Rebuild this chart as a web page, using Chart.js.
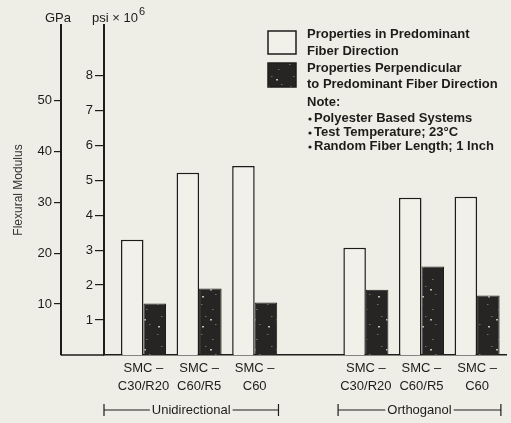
<!DOCTYPE html>
<html>
<head>
<meta charset="utf-8">
<script src="https://cdn.jsdelivr.net/npm/chart.js@4.4.1/dist/chart.umd.min.js"></script>
<style>
  html, body { margin: 0; padding: 0; background: #efeee6; }
  #wrap { width: 511px; height: 423px; }
</style>
</head>
<body>
<div id="wrap"><canvas id="myChart" width="511" height="423"></canvas></div>
<script>
// values (psi x 10^6)
const categories = [
    ['SMC –', 'C30/R20'], ['SMC –', 'C60/R5'], ['SMC –', 'C60'],
    '',
    ['SMC –', 'C30/R20'], ['SMC –', 'C60/R5'], ['SMC –', 'C60']
];
const predominant = [3.30, 5.21, 5.41, null, 3.07, 4.50, 4.53];
const perpendicular = [1.47, 1.90, 1.50, null, 1.87, 2.53, 1.70];
const psiTicks = [1, 2, 3, 4, 5, 6, 7, 8];
const gpaTicks = [10, 20, 30, 40, 50];
const groupNames = ['Unidirectional', 'Orthoganol'];
const groupRanges = [[0, 2], [4, 6]];
const legendLines = [
    ['Properties in Predominant', 'Fiber Direction'],
    ['Properties Perpendicular', 'to Predominant Fiber Direction']
];
const noteTitle = 'Note:';
const notes = ['Polyester Based Systems', 'Test Temperature; 23°C', 'Random Fiber Length; 1 Inch'];

const ink = '#1c1c1a';
const paper = '#f1f0e9';
const font = 'Liberation Sans, Arial, sans-serif';

// speckled dark fill like the printed bars
function speckle() {
    const c = document.createElement('canvas');
    c.width = 22; c.height = 30;
    const g = c.getContext('2d');
    g.fillStyle = '#262523';
    g.fillRect(0, 0, 22, 30);
    g.fillStyle = '#6e6e68';
    [[3, 4], [14, 9], [7, 16], [17, 24]].forEach(p => g.fillRect(p[0], p[1], 1.5, 1));
    g.fillStyle = '#bdbdb5';
    [[12, 19], [4, 26]].forEach(p => g.fillRect(p[0], p[1], 2, 1.5));
    return g.createPattern(c, 'repeat');
}
const darkFill = speckle();

const decorations = {
    id: 'decorations',
    afterDraw(chart) {
        const ctx = chart.ctx;
        const area = chart.chartArea;
        const xs = chart.scales.x;
        const gpa = chart.scales.gpa;
        ctx.save();
        ctx.strokeStyle = ink;
        ctx.fillStyle = ink;
        ctx.lineWidth = 1.5;

        // baseline carried back to the GPa axis
        ctx.beginPath();
        ctx.moveTo(gpa.right, area.bottom);
        ctx.lineTo(area.left, area.bottom);
        ctx.stroke();

        // unit captions above the axes
        ctx.font = '13px ' + font;
        ctx.textBaseline = 'alphabetic';
        ctx.textAlign = 'center';
        ctx.fillText('GPa', gpa.right - 3, 22);
        ctx.textAlign = 'left';
        const base = 'psi × 10';
        ctx.fillText(base, 92, 22);
        const w = ctx.measureText(base).width;
        ctx.font = '11px ' + font;
        ctx.fillText('6', 92 + w + 1, 15);

        // legend boxes
        ctx.lineWidth = 1.5;
        ctx.fillStyle = paper;
        ctx.fillRect(268, 31, 28, 23);
        ctx.strokeRect(268, 31, 28, 23);
        ctx.fillStyle = darkFill;
        ctx.fillRect(268, 63, 28, 24);
        ctx.strokeRect(268, 63, 28, 24);

        ctx.fillStyle = ink;
        ctx.font = 'bold 13px ' + font;
        ctx.textBaseline = 'middle';
        const rows = [34, 51, 68, 84];
        legendLines.flat().forEach((t, i) => ctx.fillText(t, 307, rows[i]));
        ctx.fillText(noteTitle, 307, 102);
        notes.forEach((t, i) => {
            const y = 118 + i * 14;
            ctx.beginPath();
            ctx.arc(310, y + 1, 1.6, 0, Math.PI * 2);
            ctx.fill();
            ctx.fillText(t, 314, y);
        });

        // group brackets under the category labels
        const half = (xs.getPixelForValue(1) - xs.getPixelForValue(0)) / 2;
        const by = 410;
        ctx.font = '13px ' + font;
        ctx.textAlign = 'center';
        ctx.lineWidth = 1.2;
        groupRanges.forEach((r, g) => {
            const x0 = g === 0 ? area.left : xs.getPixelForValue(r[0]) - half;
            const x1 = xs.getPixelForValue(r[1]) + half - 4;
            const mid = (x0 + x1) / 2;
            const tw = ctx.measureText(groupNames[g]).width / 2 + 2;
            ctx.beginPath();
            ctx.moveTo(x0, by - 6); ctx.lineTo(x0, by + 6);
            ctx.moveTo(x1, by - 6); ctx.lineTo(x1, by + 6);
            ctx.moveTo(x0, by); ctx.lineTo(mid - tw, by);
            ctx.moveTo(mid + tw, by); ctx.lineTo(x1, by);
            ctx.stroke();
            ctx.fillText(groupNames[g], mid, by);
        });
        ctx.restore();
    }
};

const ctx = document.getElementById('myChart').getContext('2d');
const myChart = new Chart(ctx, {
    type: 'bar',
    data: {
        labels: categories,
        datasets: [{
            label: legendLines[0].join(' '),
            data: predominant,
            backgroundColor: paper,
            borderColor: ink,
            borderWidth: 1.5,
            yAxisID: 'y'
        }, {
            label: legendLines[1].join(' '),
            data: perpendicular,
            backgroundColor: darkFill,
            borderColor: ink,
            borderWidth: 1,
            yAxisID: 'y'
        }]
    },
    options: {
        responsive: false,
        animation: false,
        layout: { padding: { top: 25, right: 5, left: 0, bottom: 0 } },
        plugins: { legend: { display: false }, tooltip: { enabled: false } },
        datasets: { bar: { categoryPercentage: 0.81, barPercentage: 1.0 } },
        scales: {
            x: {
                grid: { display: false, drawTicks: false },
                border: { display: true, color: ink, width: 1.5 },
                ticks: { color: ink, padding: 5, font: { family: font, size: 13, lineHeight: 1.35 }, maxRotation: 0, autoSkip: false },
                afterBuildTicks: (s) => { s._startValue = -0.71; s._valueRange = 7.23; },
                afterFit: (s) => { s.height = 68; }
            },
            y: {
                position: 'left',
                weight: 0,
                min: 0,
                max: 9.44,
                grid: { drawOnChartArea: false, drawTicks: true, tickLength: 9, color: ink, lineWidth: 1.2 },
                border: { display: true, color: ink, width: 2 },
                ticks: { color: ink, padding: 2, font: { family: font, size: 13 } },
                afterBuildTicks: (s) => { s.ticks = psiTicks.map(v => ({ value: v })); },
                afterFit: (s) => { s.width = 43; }
            },
            gpa: {
                position: 'left',
                weight: 1,
                min: 0,
                max: 64.8,
                grid: { drawOnChartArea: false, drawTicks: true, tickLength: 7, color: ink, lineWidth: 1.2 },
                border: { display: true, color: ink, width: 2 },
                ticks: { color: ink, padding: 2, font: { family: font, size: 13 } },
                title: { display: true, text: 'Flexural Modulus', color: '#333', font: { family: font, size: 12 }, padding: { top: 11, bottom: 0 } },
                afterBuildTicks: (s) => { s.ticks = gpaTicks.map(v => ({ value: v })); },
                afterFit: (s) => { s.width = 61; }
            }
        }
    },
    plugins: [decorations]
});
</script>
</body>
</html>
